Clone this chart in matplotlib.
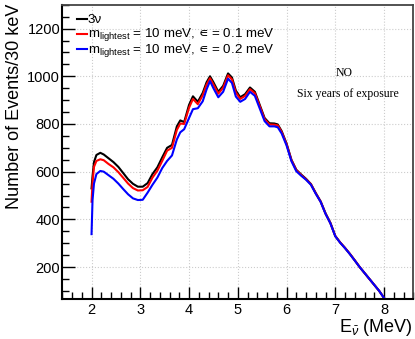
import matplotlib
matplotlib.use("Agg")
import matplotlib.pyplot as plt
from matplotlib.ticker import MultipleLocator

plt.rcParams['font.family'] = ['Liberation Sans', 'DejaVu Sans']
plt.rcParams['mathtext.fontset'] = 'custom'
plt.rcParams['mathtext.rm'] = 'Liberation Sans'
plt.rcParams['mathtext.it'] = 'Liberation Sans:italic'
plt.rcParams['mathtext.sf'] = 'DejaVu Sans'

# neutrino energy (MeV) and events per 30 keV bin
energy = [2.00, 2.02, 2.05, 2.10, 2.18, 2.25, 2.35, 2.45, 2.55, 2.65,
          2.75, 2.85, 2.95, 3.05, 3.15, 3.25, 3.35, 3.45, 3.55, 3.65,
          3.75, 3.82, 3.90, 4.00, 4.08, 4.18, 4.28, 4.36, 4.43, 4.50,
          4.60, 4.70, 4.80, 4.88, 4.96, 5.05, 5.15, 5.25, 5.35, 5.45,
          5.55, 5.65, 5.75, 5.82, 5.90, 6.00, 6.10, 6.20, 6.30, 6.40,
          6.50, 6.60, 6.70, 6.80, 6.90, 7.00, 7.10, 7.20, 7.30, 7.40,
          7.50, 7.60, 7.70, 7.80, 7.90, 8.00]

ev_3nu = [530, 580, 640, 670, 679, 672, 656, 640, 620, 594,
          568, 549, 537, 537, 552, 590, 618, 660, 700, 712,
          790, 815, 808, 880, 916, 893, 930, 975, 1000, 975,
          935, 960, 1012, 995, 940, 912, 925, 953, 935, 880,
          825, 803, 802, 798, 770, 718, 650, 608, 588, 570,
          548, 510, 475, 425, 385, 330, 303, 280, 255, 228,
          200, 175, 150, 125, 100, 70]

ev_eps01 = [474, 552, 620, 645, 652, 648, 632, 618, 598, 574,
            550, 531, 521, 522, 536, 575, 604, 645, 688, 700,
            775, 802, 800, 868, 905, 883, 920, 965, 992, 966,
            927, 952, 1004, 987, 932, 905, 918, 946, 929, 875,
            820, 798, 797, 794, 766, 715, 648, 606, 586, 568,
            547, 509, 474, 424, 384, 330, 303, 280, 255, 228,
            200, 175, 150, 125, 100, 70]

ev_eps02 = [338, 480, 550, 590, 603, 600, 585, 570, 550, 527,
            505, 488, 481, 482, 512, 545, 575, 615, 645, 668,
            735, 765, 778, 825, 862, 866, 895, 945, 980, 950,
            912, 935, 990, 972, 915, 893, 905, 935, 918, 865,
            812, 790, 790, 786, 760, 710, 644, 602, 583, 566,
            545, 507, 473, 423, 383, 329, 302, 279, 254, 227,
            200, 175, 150, 125, 100, 70]

labels = ['3ν',
          r'm$_{\mathrm{lightest}}$ = 10 meV, $\mathsf{∊}$ = 0.1 meV',
          r'm$_{\mathrm{lightest}}$ = 10 meV, $\mathsf{∊}$ = 0.2 meV']
colors = ['black', 'red', 'blue']

fig = plt.figure(figsize=(4.15, 3.39), dpi=100)
ax = fig.add_axes([0.1501, 0.118, 0.8458, 0.868])

for y, c in zip([ev_3nu, ev_eps01, ev_eps02], colors):
    ax.plot(energy, y, color=c, lw=1.5)

ax.set_xlim(1.4, 8.6)
ax.set_ylim(66, 1300)
ax.xaxis.set_major_locator(MultipleLocator(1))
ax.xaxis.set_minor_locator(MultipleLocator(0.2))
ax.yaxis.set_minor_locator(MultipleLocator(50))
ax.set_yticks(range(200, 1201, 200))
ax.tick_params(which='both', direction='in', top=False, right=False, labelsize=10.5)
ax.tick_params(which='major', length=9, width=1)
ax.tick_params(which='minor', length=5, width=1)
ax.tick_params(axis='y', pad=1.5)
ax.tick_params(axis='x', pad=3)
ax.grid(True, which='major', linestyle=':', color='#cccccc', lw=0.8)
for side in ['left', 'bottom']:
    ax.spines[side].set_linewidth(1.5)
for side in ['top', 'right']:
    ax.spines[side].set_linewidth(1.3)
    ax.spines[side].set_color('#444444')

# legend drawn by hand, ROOT style
line_y = [0.951, 0.900, 0.848]
text_y = [0.938, 0.890, 0.836]
for c, lab, ly, ty in zip(colors, labels, line_y, text_y):
    ax.plot([0.042, 0.070], [ly, ly], color=c, lw=1.5, transform=ax.transAxes)
    ax.text(0.073, ty, lab, transform=ax.transAxes, fontsize=9.6,
            va='baseline', ha='left')

ax.text(0.803, 0.768, 'NO', transform=ax.transAxes, fontsize=8.5,
        family='Liberation Serif', ha='center', va='center')
ax.text(0.813, 0.697, 'Six years of exposure', transform=ax.transAxes,
        fontsize=8.5, family='Liberation Serif', ha='center', va='center')

fig.text(15 / 415, 1 - 4 / 339, 'Number of Events/30 keV', rotation=90,
         fontsize=13, ha='center', va='top')
fig.text(413 / 415, 1 - 332 / 339, r'E$_{\bar{\nu}}$ (MeV)', fontsize=13,
         ha='right', va='baseline')

fig.savefig('out.png', dpi=100)
